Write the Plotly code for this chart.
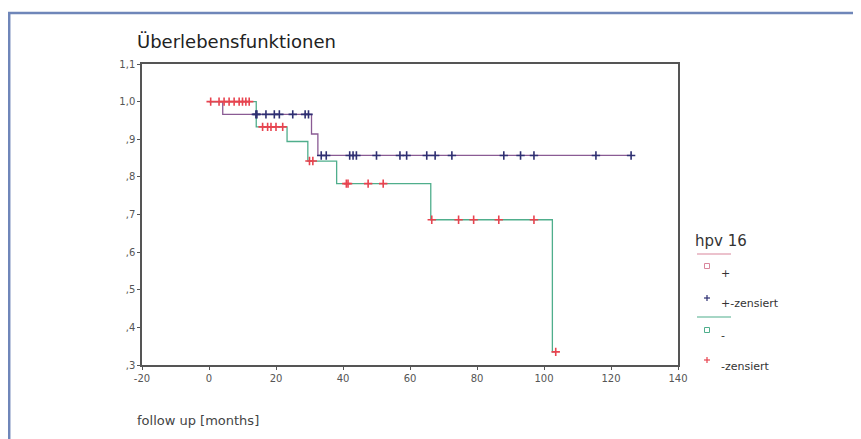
import plotly.graph_objects as go

# ---------------- data ----------------
# hpv16 "+" group: Kaplan-Meier steps (event times, survival after event)
pos_times = [0, 4.1, 30.6, 32.5]
pos_surv = [1.0, 0.966, 0.914, 0.857]
pos_end = 126
pos_censored = [14, 14.3, 17, 19.5, 21, 25, 28.7, 29.7,
                33.5, 35, 42, 43, 44, 50, 57, 59, 65, 67.5, 72.5, 88, 93, 97, 115.5, 126]

# hpv16 "-" group
neg_times = [0, 14.1, 23.3, 29.5, 38.1, 66.2, 102.5]
neg_surv = [1.0, 0.933, 0.894, 0.842, 0.782, 0.686, 0.335]
neg_end = 103.5
neg_censored = [0.5, 3, 4.5, 6, 7.5, 9, 10, 11, 12,
                16, 17.5, 18.5, 20, 22, 30, 31,
                41, 41.5, 47.5, 52, 66.5, 74.5, 79, 86.5, 97, 103.5]

x_ticks = [-20, 0, 20, 40, 60, 80, 100, 120, 140]
y_ticks = [0.3, 0.4, 0.5, 0.6, 0.7, 0.8, 0.9, 1.0, 1.1]
y_ticktext = [",3", ",4", ",5", ",6", ",7", ",8", ",9", "1,0", "1,1"]

title_text = "Überlebensfunktionen"
x_title = "follow up [months]"
legend_title = "hpv 16"
legend_labels = ["+", "+-zensiert", "-", "-zensiert"]

# ---------------- styles ----------------
POS_LINE = "#8a5b94"
POS_MARK = "#2e2f72"
NEG_LINE = "#4fae8c"
NEG_MARK = "#e8434f"
FRAME = "#6f86b9"

W, H = 861, 439
L, R, T, B = 134, 670, 56, 357


def surv_at(t, times, surv):
    s = surv[0]
    for ti, si in zip(times, surv):
        if t >= ti:
            s = si
    return s


def px(x):
    return (x - L) / (R - L)


def py(y):
    return (B - y) / (B - T)


fig = go.Figure()

# step curves
fig.add_trace(go.Scatter(x=pos_times + [pos_end], y=pos_surv + [pos_surv[-1]],
                         mode="lines", line=dict(color=POS_LINE, width=1.3, shape="hv"),
                         showlegend=False, hoverinfo="skip"))
fig.add_trace(go.Scatter(x=neg_times + [neg_end], y=neg_surv + [neg_surv[-1]],
                         mode="lines", line=dict(color=NEG_LINE, width=1.3, shape="hv"),
                         showlegend=False, hoverinfo="skip"))

# censored marks
fig.add_trace(go.Scatter(x=neg_censored, y=[surv_at(t, neg_times, neg_surv) for t in neg_censored],
                         mode="markers",
                         marker=dict(symbol="cross-thin", size=6, line=dict(color=NEG_MARK, width=1.6)),
                         showlegend=False))
fig.add_trace(go.Scatter(x=pos_censored, y=[surv_at(t, pos_times, pos_surv) for t in pos_censored],
                         mode="markers",
                         marker=dict(symbol="cross-thin", size=6, line=dict(color=POS_MARK, width=1.6)),
                         showlegend=False))

shapes = []
annotations = []

# blue outer frame (top and left)
shapes.append(dict(type="line", xref="paper", yref="paper", x0=px(0), x1=px(861), y0=py(5), y1=py(5),
                   line=dict(color=FRAME, width=2.5)))
shapes.append(dict(type="line", xref="paper", yref="paper", x0=px(1.2), x1=px(1.2), y0=py(4), y1=py(439),
                   line=dict(color=FRAME, width=2.5)))

# legend
annotations.append(dict(text=legend_title, xref="paper", yref="paper", x=px(685), y=py(233),
                        xanchor="left", yanchor="middle", showarrow=False,
                        font=dict(size=15, color="#333", family="DejaVu Sans")))
shapes.append(dict(type="line", xref="paper", yref="paper", x0=px(689), x1=px(723), y0=py(246), y1=py(246),
                   line=dict(color="#d9869c", width=1.2)))
shapes.append(dict(type="line", xref="paper", yref="paper", x0=px(689), x1=px(723), y0=py(309), y1=py(309),
                   line=dict(color=NEG_LINE, width=1.2)))


def small_square(cx, cy, color):
    shapes.append(dict(type="rect", xref="paper", yref="paper", x0=px(cx - 2.5), x1=px(cx + 2.5),
                       y0=py(cy - 2.5), y1=py(cy + 2.5), line=dict(color=color, width=1)))


def small_cross(cx, cy, color):
    shapes.append(dict(type="line", xref="paper", yref="paper", x0=px(cx - 3), x1=px(cx + 3), y0=py(cy), y1=py(cy),
                       line=dict(color=color, width=1.2)))
    shapes.append(dict(type="line", xref="paper", yref="paper", x0=px(cx), x1=px(cx), y0=py(cy - 3), y1=py(cy + 3),
                       line=dict(color=color, width=1.2)))


small_square(699, 258, "#d9869c")
small_cross(699, 290, POS_MARK)
small_square(699, 322, NEG_LINE)
small_cross(699, 352, NEG_MARK)

for lbl, yy in zip(legend_labels, [265, 295, 327, 358]):
    annotations.append(dict(text=lbl, xref="paper", yref="paper", x=px(711), y=py(yy),
                            xanchor="left", yanchor="middle", showarrow=False,
                            font=dict(size=11, color="#333", family="DejaVu Sans")))

# x axis title
annotations.append(dict(text=x_title, xref="paper", yref="paper", x=px(127), y=py(412),
                        xanchor="left", yanchor="middle", showarrow=False,
                        font=dict(size=13, color="#444", family="DejaVu Sans")))

fig.update_layout(
    width=W, height=H,
    margin=dict(l=L, r=W - R, t=T, b=H - B, autoexpand=False),
    paper_bgcolor="white", plot_bgcolor="white",
    title=dict(text=title_text, x=129 / W, xanchor="left", y=1 - 34 / H, yanchor="middle",
               font=dict(size=18, color="#222", family="DejaVu Sans")),
    shapes=shapes, annotations=annotations, showlegend=False,
    xaxis=dict(range=[-20, 140], tickvals=x_ticks, ticktext=[str(v) for v in x_ticks],
               showgrid=False, zeroline=False, showline=True, linecolor="#555", linewidth=1.5,
               mirror=True, ticks="outside", ticklen=3, tickcolor="#555",
               tickfont=dict(size=10, color="#555", family="DejaVu Sans")),
    yaxis=dict(range=[0.3, 1.1], tickvals=y_ticks, ticktext=y_ticktext,
               showgrid=False, zeroline=False, showline=True, linecolor="#555", linewidth=1.5,
               mirror=True, ticks="outside", ticklen=3, tickcolor="#555",
               tickfont=dict(size=10, color="#555", family="DejaVu Sans")),
)

fig.write_html("out.html")
